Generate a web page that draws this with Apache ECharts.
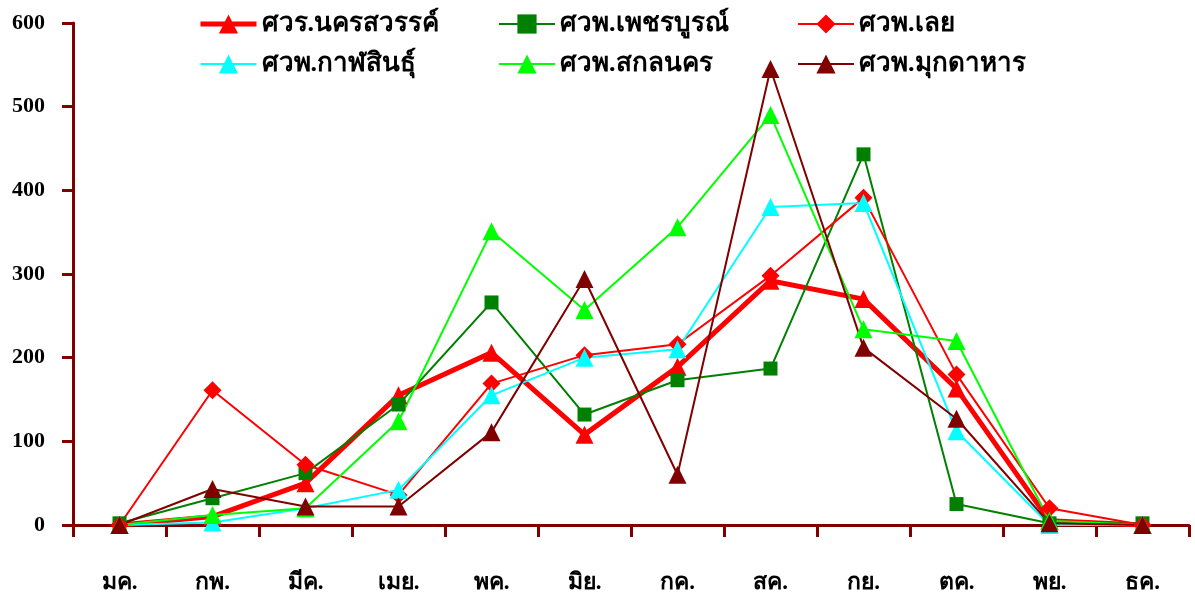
<!DOCTYPE html>
<html><head><meta charset="utf-8">
<script src="https://cdn.jsdelivr.net/npm/echarts@6/dist/echarts.min.js"></script>
<style>html,body{margin:0;padding:0;background:#fff}#c{width:1195px;height:612px}</style>
</head><body><div id="c"></div>
<script>
const months = ['มค.','กพ.','มีค.','เมย.','พค.','มิย.','กค.','สค.','กย.','ตค.','พย.','ธค.'];
const yTicks = [0,100,200,300,400,500,600];
const nakhonsawan = [0,10,50,155,206,108,189,292,270,163,5,0];
const phetchabun = [2,32,62,144,266,132,173,187,443,25,2,2];
const loei = [0,161,72,36,169,203,216,298,391,180,20,0];
const kalasin = [0,3,20,42,155,200,210,380,385,112,0,0];
const sakon = [0,12,20,124,351,257,356,490,234,220,5,0];
const mukdahan = [0,43,22,22,111,294,60,545,212,127,2,0];

const names = ['ศวร.นครสวรรค์','ศวพ.เพชรบูรณ์','ศวพ.เลย','ศวพ.กาฬสินธุ์','ศวพ.สกลนคร','ศวพ.มุกดาหาร'];
const FONT = '"Liberation Serif","Times New Roman",serif';
const styles = [
  ['#ff0000','triangle',18,5],
  ['#008000','rect',14,2],
  ['#ff0000','diamond',18,2],
  ['#00ffff','triangle',18,2],
  ['#00ff00','triangle',18,2],
  ['#800000','triangle',18,2]
];
const seriesData = [nakhonsawan, phetchabun, loei, kalasin, sakon, mukdahan];
const series = names.map((n,i)=>({
  name:n, type:'line', data:seriesData[i], symbol:styles[i][1], symbolSize:styles[i][2],
  lineStyle:{color:styles[i][0], width:styles[i][3]}, itemStyle:{color:styles[i][0]}, animation:false
}));
function leg(left, idx){
  return {left, top:6, orient:'vertical', itemGap:14, itemWidth:56, itemHeight:24,
    data: idx.map(i=>({name:names[i], lineStyle:{width:styles[i][3], color:styles[i][0]}})),
    textStyle:{fontFamily:FONT, fontWeight:'bold', fontSize:26, lineHeight:26, color:'#000'}, selectedMode:false};
}
const chart = echarts.init(document.getElementById('c'));
chart.setOption({
  backgroundColor:'#fff',
  legend:[leg(193,[0,3]), leg(493,[1,4]), leg(792,[2,5])],
  grid:{left:73, right:6, top:23, bottom:87},
  xAxis:{type:'category', data:months, boundaryGap:true,
    axisLine:{lineStyle:{color:'#800000', width:3}},
    axisTick:{show:true, length:12, lineStyle:{color:'#800000', width:3}},
    axisLabel:{margin:47, fontFamily:FONT, fontWeight:'bold', fontSize:23, color:'#000'}},
  yAxis:{type:'value', min:yTicks[0], max:yTicks[yTicks.length-1], interval:100,
    splitLine:{show:false},
    axisLine:{show:true, lineStyle:{color:'#800000', width:3}},
    axisTick:{show:true, length:11, lineStyle:{color:'#800000', width:3}},
    axisLabel:{margin:28, fontFamily:FONT, fontWeight:'bold', fontSize:22, color:'#000'}},
  series
});
</script></body></html>
